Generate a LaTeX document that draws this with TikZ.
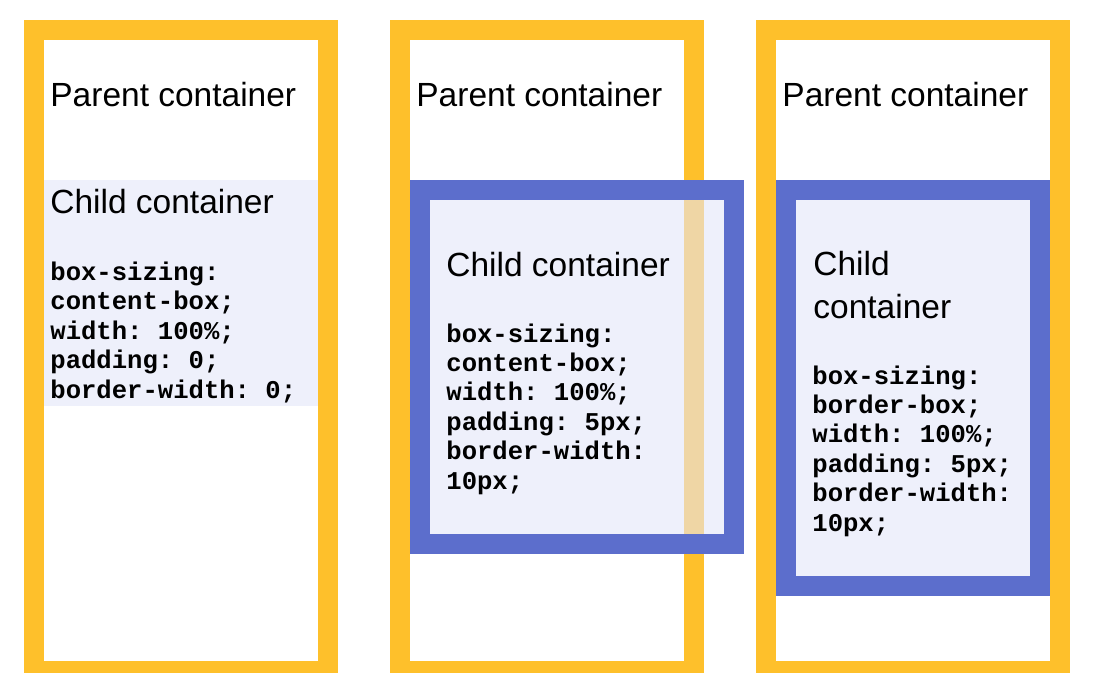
\documentclass[tikz,border=0pt]{standalone}
\usepackage{fontspec}
\setmainfont{Liberation Sans}
\setmonofont{Liberation Mono}
\usepackage{tikz}
\definecolor{frameyellow}{HTML}{FEC02B}
\definecolor{borderblue}{HTML}{5C6ECC}
\definecolor{contentfill}{HTML}{EEF0FB}
\definecolor{overlaptan}{HTML}{EFD6A5}
\tikzset{
  boxtitle/.style={anchor=base west,inner sep=0pt,align=left,font=\fontsize{16.75}{21.5}\selectfont},
  boxcode/.style={anchor=base west,inner sep=0pt,align=left,font=\ttfamily\bfseries\fontsize{12.8}{14.7}\selectfont}
}

\begin{document}
\begin{tikzpicture}[x=0.5pt,y=-0.5pt]
	\useasboundingbox (0,0) rectangle (1098,686);
	
	% parent frames
	\draw[fill=frameyellow,draw=none] (24,20) rectangle (338,673);
	\draw[fill=white,draw=none] (44,40) rectangle (318,661);
	\draw[fill=frameyellow,draw=none] (390,20) rectangle (704,673);
	\draw[fill=white,draw=none] (410,40) rectangle (684,661);
	\draw[fill=frameyellow,draw=none] (756,20) rectangle (1070,673);
	\draw[fill=white,draw=none] (776,40) rectangle (1050,661);
	
	\node[boxtitle] (parentA) at (50,106) {Parent container};
	\node[boxtitle] (parentB) at (416,106) {Parent container};
	\node[boxtitle] (parentC) at (782,106) {Parent container};
	
	% child 1: no padding, no border
	\draw[fill=contentfill,draw=none] (44,180) rectangle (318,406);
	\node[boxtitle] (childA) at (50,213) {Child container};
	\node[boxcode] (codeA) at (50,398) {box-sizing:\\content-box;\\width: 100\%;\\padding: 0;\\border-width: 0;};
	
	% child 2: content-box, overflows the parent
	\draw[fill=borderblue,draw=none] (410,180) rectangle (744,554);
	\draw[fill=contentfill,draw=none] (430,200) rectangle (724,534);
	\draw[fill=overlaptan,draw=none] (684,200) rectangle (704,534);
	\node[boxtitle] (childB) at (446,276) {Child container};
	\node[boxcode] (codeB) at (446,489) {box-sizing:\\content-box;\\width: 100\%;\\padding: 5px;\\border-width:\\10px;};
	
	% child 3: border-box
	\draw[fill=borderblue,draw=none] (776,180) rectangle (1050,596);
	\draw[fill=contentfill,draw=none] (796,200) rectangle (1030,576);
	\node[boxtitle] (childC) at (813,318) {Child\\container};
	\node[boxcode] (codeC) at (812,531) {box-sizing:\\border-box;\\width: 100\%;\\padding: 5px;\\border-width:\\10px;};
\end{tikzpicture}
\end{document}
